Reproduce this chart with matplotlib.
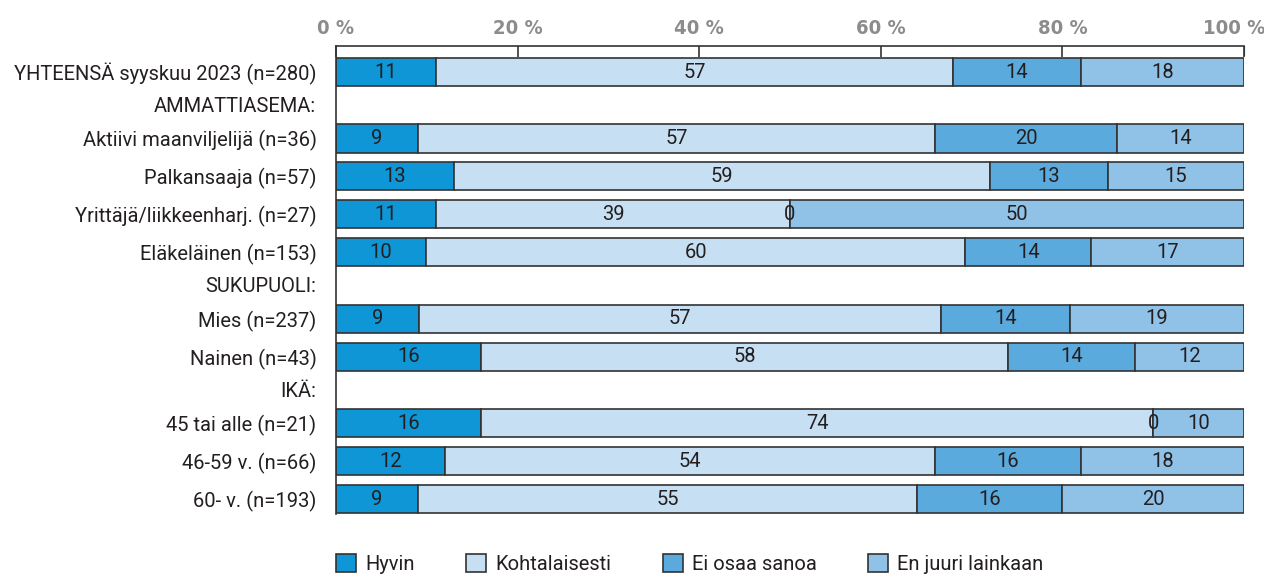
import numpy as np
import matplotlib.pyplot as plt
from matplotlib.transforms import ScaledTranslation

# data (percent)
rows = ['YHTEENSÄ syyskuu 2023 (n=280)', 'Aktiivi maanviljelijä (n=36)', 'Palkansaaja (n=57)',
        'Yrittäjä/liikkeenharj. (n=27)', 'Eläkeläinen (n=153)', 'Mies (n=237)', 'Nainen (n=43)',
        '45 tai alle (n=21)', '46-59 v. (n=66)', '60- v. (n=193)']
hyvin = [11, 9, 13, 11, 10, 9, 16, 16, 12, 9]
kohtalaisesti = [57, 57, 59, 39, 60, 57, 58, 74, 54, 55]
ei_osaa = [14, 20, 13, 0, 14, 14, 14, 0, 16, 16]
ei_lainkaan = [18, 14, 15, 50, 17, 19, 12, 10, 18, 20]
series_names = ['Hyvin', 'Kohtalaisesti', 'Ei osaa sanoa', 'En juuri lainkaan']
headers = ['AMMATTIASEMA:', 'SUKUPUOLI:', 'IKÄ:']
header_before = [1, 5, 7]  # header sits above this row

colors = ['#0e96d6', '#c7dff2', '#5aaade', '#90c1e7']
edge = '#333333'
txt = '#231f20'

plt.rcParams['font.family'] = ['Roboto', 'DejaVu Sans']
fs = 14.5

# row positions: sections get extra gap for the header line
ypos = []
y = 0.0
for i in range(len(rows)):
    if i in header_before:
        y += 0.75
    ypos.append(y)
    y += 1.0
ypos = np.array(ypos)

data = np.array([hyvin, kohtalaisesti, ei_osaa, ei_lainkaan], dtype=float)
widths = data / data.sum(axis=0) * 100  # rows that round to 99/101 still fill the bar

fig = plt.figure(figsize=(12.64, 5.74), dpi=100)
ax = fig.add_axes([336 / 1264, 1 - 514 / 574, 908 / 1264, 468 / 574])

left = np.zeros(len(rows))
for k in range(4):
    ax.barh(ypos, widths[k], left=left, height=0.74, color=colors[k],
            edgecolor=edge, linewidth=1.2, label=series_names[k])
    for i in range(len(rows)):
        ax.text(left[i] + widths[k][i] / 2, ypos[i], str(int(data[k][i])),
                ha='center', va='center', fontsize=fs, color=txt)
    left += widths[k]

ax.set_xlim(0, 100)
ax.set_ylim(ypos[-1] + 0.39, -0.685)

ax.set_yticks(ypos)
ax.set_yticklabels(rows, fontsize=fs, color=txt)
ax.tick_params(axis='y', length=0, pad=14)

for h, i in zip(headers, header_before):
    ax.text(-2.2, ypos[i] - 0.84, h, ha='right', va='center', fontsize=fs, color=txt)

ax.xaxis.tick_top()
ax.set_xticks([0, 20, 40, 60, 80, 100])
ax.set_xticklabels(['0 %', '20 %', '40 %', '60 %', '80 %', '100 %'],
                   fontsize=14.5, fontweight='bold', color='#8c8c8c',
                   fontfamily='DejaVu Sans', fontstretch='condensed')
ax.tick_params(axis='x', direction='in', length=8, width=1.2, color=edge, pad=6)
# keep the last label inside the figure
last = ax.get_xticklabels()[-1]
last.set_transform(last.get_transform() + ScaledTranslation(-10 / 100, 0, fig.dpi_scale_trans))

for s in ['right', 'bottom']:
    ax.spines[s].set_visible(False)
for s in ['top', 'left']:
    ax.spines[s].set_color(edge)
    ax.spines[s].set_linewidth(1.2)
ax.spines['right'].set_visible(True)
ax.spines['right'].set_bounds(ax.get_ylim()[1], ax.get_ylim()[1] + 0.25)
ax.spines['right'].set_color(edge)

ax.legend(loc='upper left', bbox_to_anchor=(0, -0.085), ncol=4, frameon=False,
          fontsize=fs, handlelength=1.0, handleheight=1.0, handletextpad=0.45,
          columnspacing=2.55, borderaxespad=0, borderpad=0, labelcolor=txt)

fig.savefig('out.png', dpi=100)
